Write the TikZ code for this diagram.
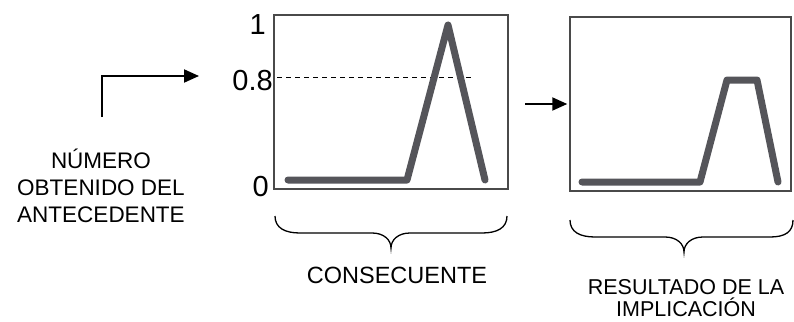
\documentclass[tikz,border=0pt]{standalone}
\usepackage{fontspec}
\setmainfont{Liberation Sans}
\usetikzlibrary{arrows.meta}
\definecolor{curvegray}{HTML}{55555A}
\definecolor{boxgray}{HTML}{4A4A4A}
\begin{document}
\begin{tikzpicture}[x=1pt,y=-1pt,
  plotbox/.style={draw=boxgray,line width=1.5pt,inner sep=0pt,minimum height=174pt},
  mf/.style={draw=curvegray,line width=7pt,line cap=round,line join=round},
  flow/.style={draw=black,line width=2pt,-{Triangle[length=15pt,width=13pt]}},
  brace/.style={draw=black,line width=1.3pt},
  bigtxt/.style={font=\fontsize{22.5}{27}\selectfont,inner sep=0pt,anchor=base},
  constxt/.style={font=\fontsize{23.5}{27}\selectfont,inner sep=0pt,anchor=base},
  smalltxt/.style={font=\fontsize{21.5}{24}\selectfont,inner sep=0pt,anchor=base},
  axlbl/.style={font=\fontsize{29}{30}\selectfont,inner sep=0pt,anchor=base east}]
\useasboundingbox (0,0) rectangle (794,321);
% boxes
\node[plotbox,minimum width=234pt] (box1) at (391,102) {};
\node[plotbox,minimum width=221pt] (box2) at (680.5,104) {};
% axis labels
\node[axlbl] (l1) at (266,35) {1};
\node[axlbl] (l08) at (273,90) {0.8};
\node[axlbl] (l0) at (269,196) {0};
% dashed level
\coordinate (d0) at (277,77);
\coordinate (d1) at (472,77);
\draw[black,line width=1pt,dash pattern=on 5pt off 4pt] (d0) -- (d1);
% membership functions
\draw[mf] (288,180) -- (407,180) -- (448,25) -- (485,180);
\draw[mf] (582,182) -- (700,182) -- (727,80) -- (757,80) -- (778,182);
% arrows
\coordinate (a1s) at (102,117);
\coordinate (a1e) at (199,76);
\draw[flow] (a1s) |- (a1e);
\coordinate (a2s) at (525,104);
\draw[flow,shorten >=2pt] (a2s) -- (box2.west |- a2s);
% braces
\draw[brace] (275,216) .. controls (275,228) and (285,233) .. (300,233) -- (372,233)
  .. controls (384,233) and (391,240) .. (391,248)
  .. controls (391,240) and (398,233) .. (410,233) -- (482,233)
  .. controls (497,233) and (507,228) .. (507,216);
\draw[brace] (570,220) .. controls (570,232) and (580,237) .. (595,237) -- (665,237)
  .. controls (677,237) and (684,244) .. (684,252)
  .. controls (684,244) and (691,237) .. (703,237) -- (770,237)
  .. controls (785,237) and (793,232) .. (793,220);
% texts
\node[bigtxt] (t1) at (101,168) {NÚMERO};
\node[bigtxt] (t2) at (101,195) {OBTENIDO DEL};
\node[bigtxt] (t3) at (101,222) {ANTECEDENTE};
\node[constxt] (cons) at (397,283) {CONSECUENTE};
\node[smalltxt] (r1) at (686,294) {RESULTADO DE LA};
\node[smalltxt] (r2) at (686,316) {IMPLICACIÓN};
\end{tikzpicture}
\end{document}
